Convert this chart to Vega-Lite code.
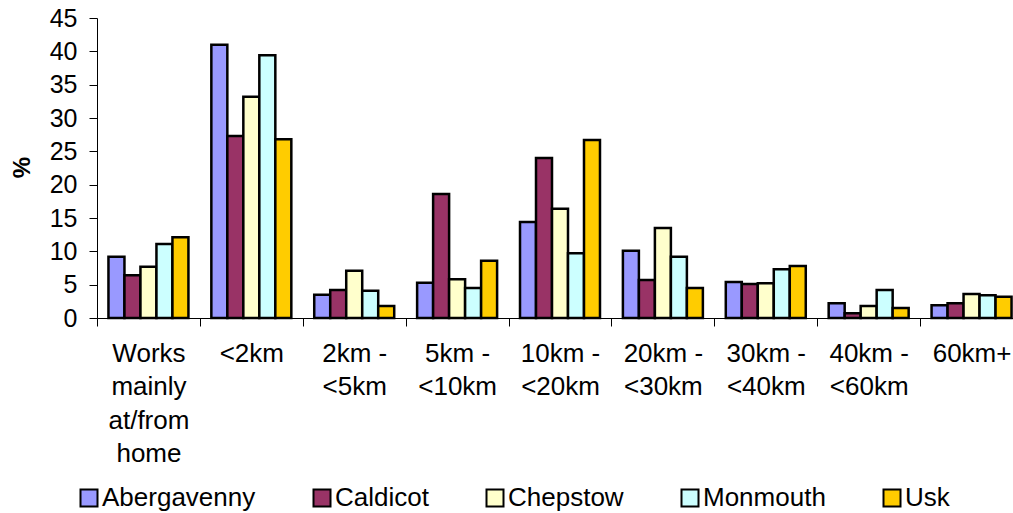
{
  "$schema": "https://vega.github.io/schema/vega-lite/v6.json",
  "width": 926,
  "height": 300,
  "autosize": {"type": "none"},
  "padding": {"left": 97, "top": 18, "right": 0, "bottom": 195},
  "background": "white",
  "config": {"font": "Liberation Sans", "view": {"stroke": null}},
  "data": {
    "values": [
      {"distance": "Works mainly at/from home", "town": "Abergavenny", "pct": 9.2},
      {"distance": "Works mainly at/from home", "town": "Caldicot", "pct": 6.4},
      {"distance": "Works mainly at/from home", "town": "Chepstow", "pct": 7.7},
      {"distance": "Works mainly at/from home", "town": "Monmouth", "pct": 11.1},
      {"distance": "Works mainly at/from home", "town": "Usk", "pct": 12.1},
      {"distance": "<2km", "town": "Abergavenny", "pct": 41.0},
      {"distance": "<2km", "town": "Caldicot", "pct": 27.3},
      {"distance": "<2km", "town": "Chepstow", "pct": 33.2},
      {"distance": "<2km", "town": "Monmouth", "pct": 39.4},
      {"distance": "<2km", "town": "Usk", "pct": 26.8},
      {"distance": "2km - <5km", "town": "Abergavenny", "pct": 3.5},
      {"distance": "2km - <5km", "town": "Caldicot", "pct": 4.2},
      {"distance": "2km - <5km", "town": "Chepstow", "pct": 7.1},
      {"distance": "2km - <5km", "town": "Monmouth", "pct": 4.1},
      {"distance": "2km - <5km", "town": "Usk", "pct": 1.8},
      {"distance": "5km - <10km", "town": "Abergavenny", "pct": 5.3},
      {"distance": "5km - <10km", "town": "Caldicot", "pct": 18.6},
      {"distance": "5km - <10km", "town": "Chepstow", "pct": 5.8},
      {"distance": "5km - <10km", "town": "Monmouth", "pct": 4.5},
      {"distance": "5km - <10km", "town": "Usk", "pct": 8.6},
      {"distance": "10km - <20km", "town": "Abergavenny", "pct": 14.4},
      {"distance": "10km - <20km", "town": "Caldicot", "pct": 24.0},
      {"distance": "10km - <20km", "town": "Chepstow", "pct": 16.4},
      {"distance": "10km - <20km", "town": "Monmouth", "pct": 9.7},
      {"distance": "10km - <20km", "town": "Usk", "pct": 26.7},
      {"distance": "20km - <30km", "town": "Abergavenny", "pct": 10.1},
      {"distance": "20km - <30km", "town": "Caldicot", "pct": 5.7},
      {"distance": "20km - <30km", "town": "Chepstow", "pct": 13.5},
      {"distance": "20km - <30km", "town": "Monmouth", "pct": 9.2},
      {"distance": "20km - <30km", "town": "Usk", "pct": 4.5},
      {"distance": "30km - <40km", "town": "Abergavenny", "pct": 5.4},
      {"distance": "30km - <40km", "town": "Caldicot", "pct": 5.1},
      {"distance": "30km - <40km", "town": "Chepstow", "pct": 5.2},
      {"distance": "30km - <40km", "town": "Monmouth", "pct": 7.3},
      {"distance": "30km - <40km", "town": "Usk", "pct": 7.8},
      {"distance": "40km - <60km", "town": "Abergavenny", "pct": 2.2},
      {"distance": "40km - <60km", "town": "Caldicot", "pct": 0.7},
      {"distance": "40km - <60km", "town": "Chepstow", "pct": 1.8},
      {"distance": "40km - <60km", "town": "Monmouth", "pct": 4.2},
      {"distance": "40km - <60km", "town": "Usk", "pct": 1.5},
      {"distance": "60km+", "town": "Abergavenny", "pct": 1.9},
      {"distance": "60km+", "town": "Caldicot", "pct": 2.2},
      {"distance": "60km+", "town": "Chepstow", "pct": 3.6},
      {"distance": "60km+", "town": "Monmouth", "pct": 3.4},
      {"distance": "60km+", "town": "Usk", "pct": 3.2}
    ]
  },
  "mark": {"type": "bar", "stroke": "black", "strokeWidth": 2.5},
  "encoding": {
    "x": {
      "field": "distance",
      "type": "nominal",
      "sort": ["Works mainly at/from home", "<2km", "2km - <5km", "5km - <10km", "10km - <20km", "20km - <30km", "30km - <40km", "40km - <60km", "60km+"],
      "scale": {"paddingInner": 0, "paddingOuter": 0},
      "axis": {
        "title": null,
        "labelAngle": 0,
        "tickBand": "extent",
        "tickSize": 8,
        "tickColor": "black",
        "domainColor": "black",
        "labelFontSize": 26,
        "labelColor": "black",
        "labelBaseline": "top",
        "labelPadding": 14,
        "labelLineHeight": 33.5,
        "labelLimit": 300,
        "labelOverlap": false,
        "labelExpr": "datum.label == 'Works mainly at/from home' ? ['Works', 'mainly', 'at/from', 'home'] : split(replace(datum.label, ' - ', ' -|'), '|')"
      }
    },
    "xOffset": {
      "field": "town",
      "type": "nominal",
      "sort": ["Abergavenny", "Caldicot", "Chepstow", "Monmouth", "Usk"],
      "scale": {"paddingInner": 0, "paddingOuter": 0.716}
    },
    "y": {
      "field": "pct",
      "type": "quantitative",
      "scale": {"domain": [0, 45], "nice": false},
      "axis": {
        "title": "%",
        "values": [0, 5, 10, 15, 20, 25, 30, 35, 40, 45],
        "grid": false,
        "tickSize": 8,
        "tickColor": "black",
        "domainColor": "black",
        "labelFontSize": 25,
        "labelColor": "black",
        "labelPadding": 12,
        "titleFontSize": 24,
        "titleFontWeight": "bold",
        "titleColor": "black",
        "titleAngle": 270,
        "titleAlign": "center",
        "titleBaseline": "middle",
        "titleX": -75,
        "titleY": 149
      }
    },
    "color": {
      "field": "town",
      "type": "nominal",
      "scale": {
        "domain": ["Abergavenny", "Caldicot", "Chepstow", "Monmouth", "Usk"],
        "range": ["#9999FF", "#993366", "#FFFFCC", "#CCFFFF", "#FFCC00"]
      },
      "legend": {
        "title": null,
        "orient": "none",
        "direction": "horizontal",
        "legendX": -21,
        "legendY": 467,
        "symbolType": "square",
        "symbolSize": 289,
        "symbolStrokeColor": "black",
        "symbolStrokeWidth": 2,
        "symbolOpacity": 1,
        "labelFontSize": 26,
        "labelColor": "black",
        "labelOffset": 0,
        "labelLimit": 300,
        "columnPadding": 53
      }
    }
  }
}
